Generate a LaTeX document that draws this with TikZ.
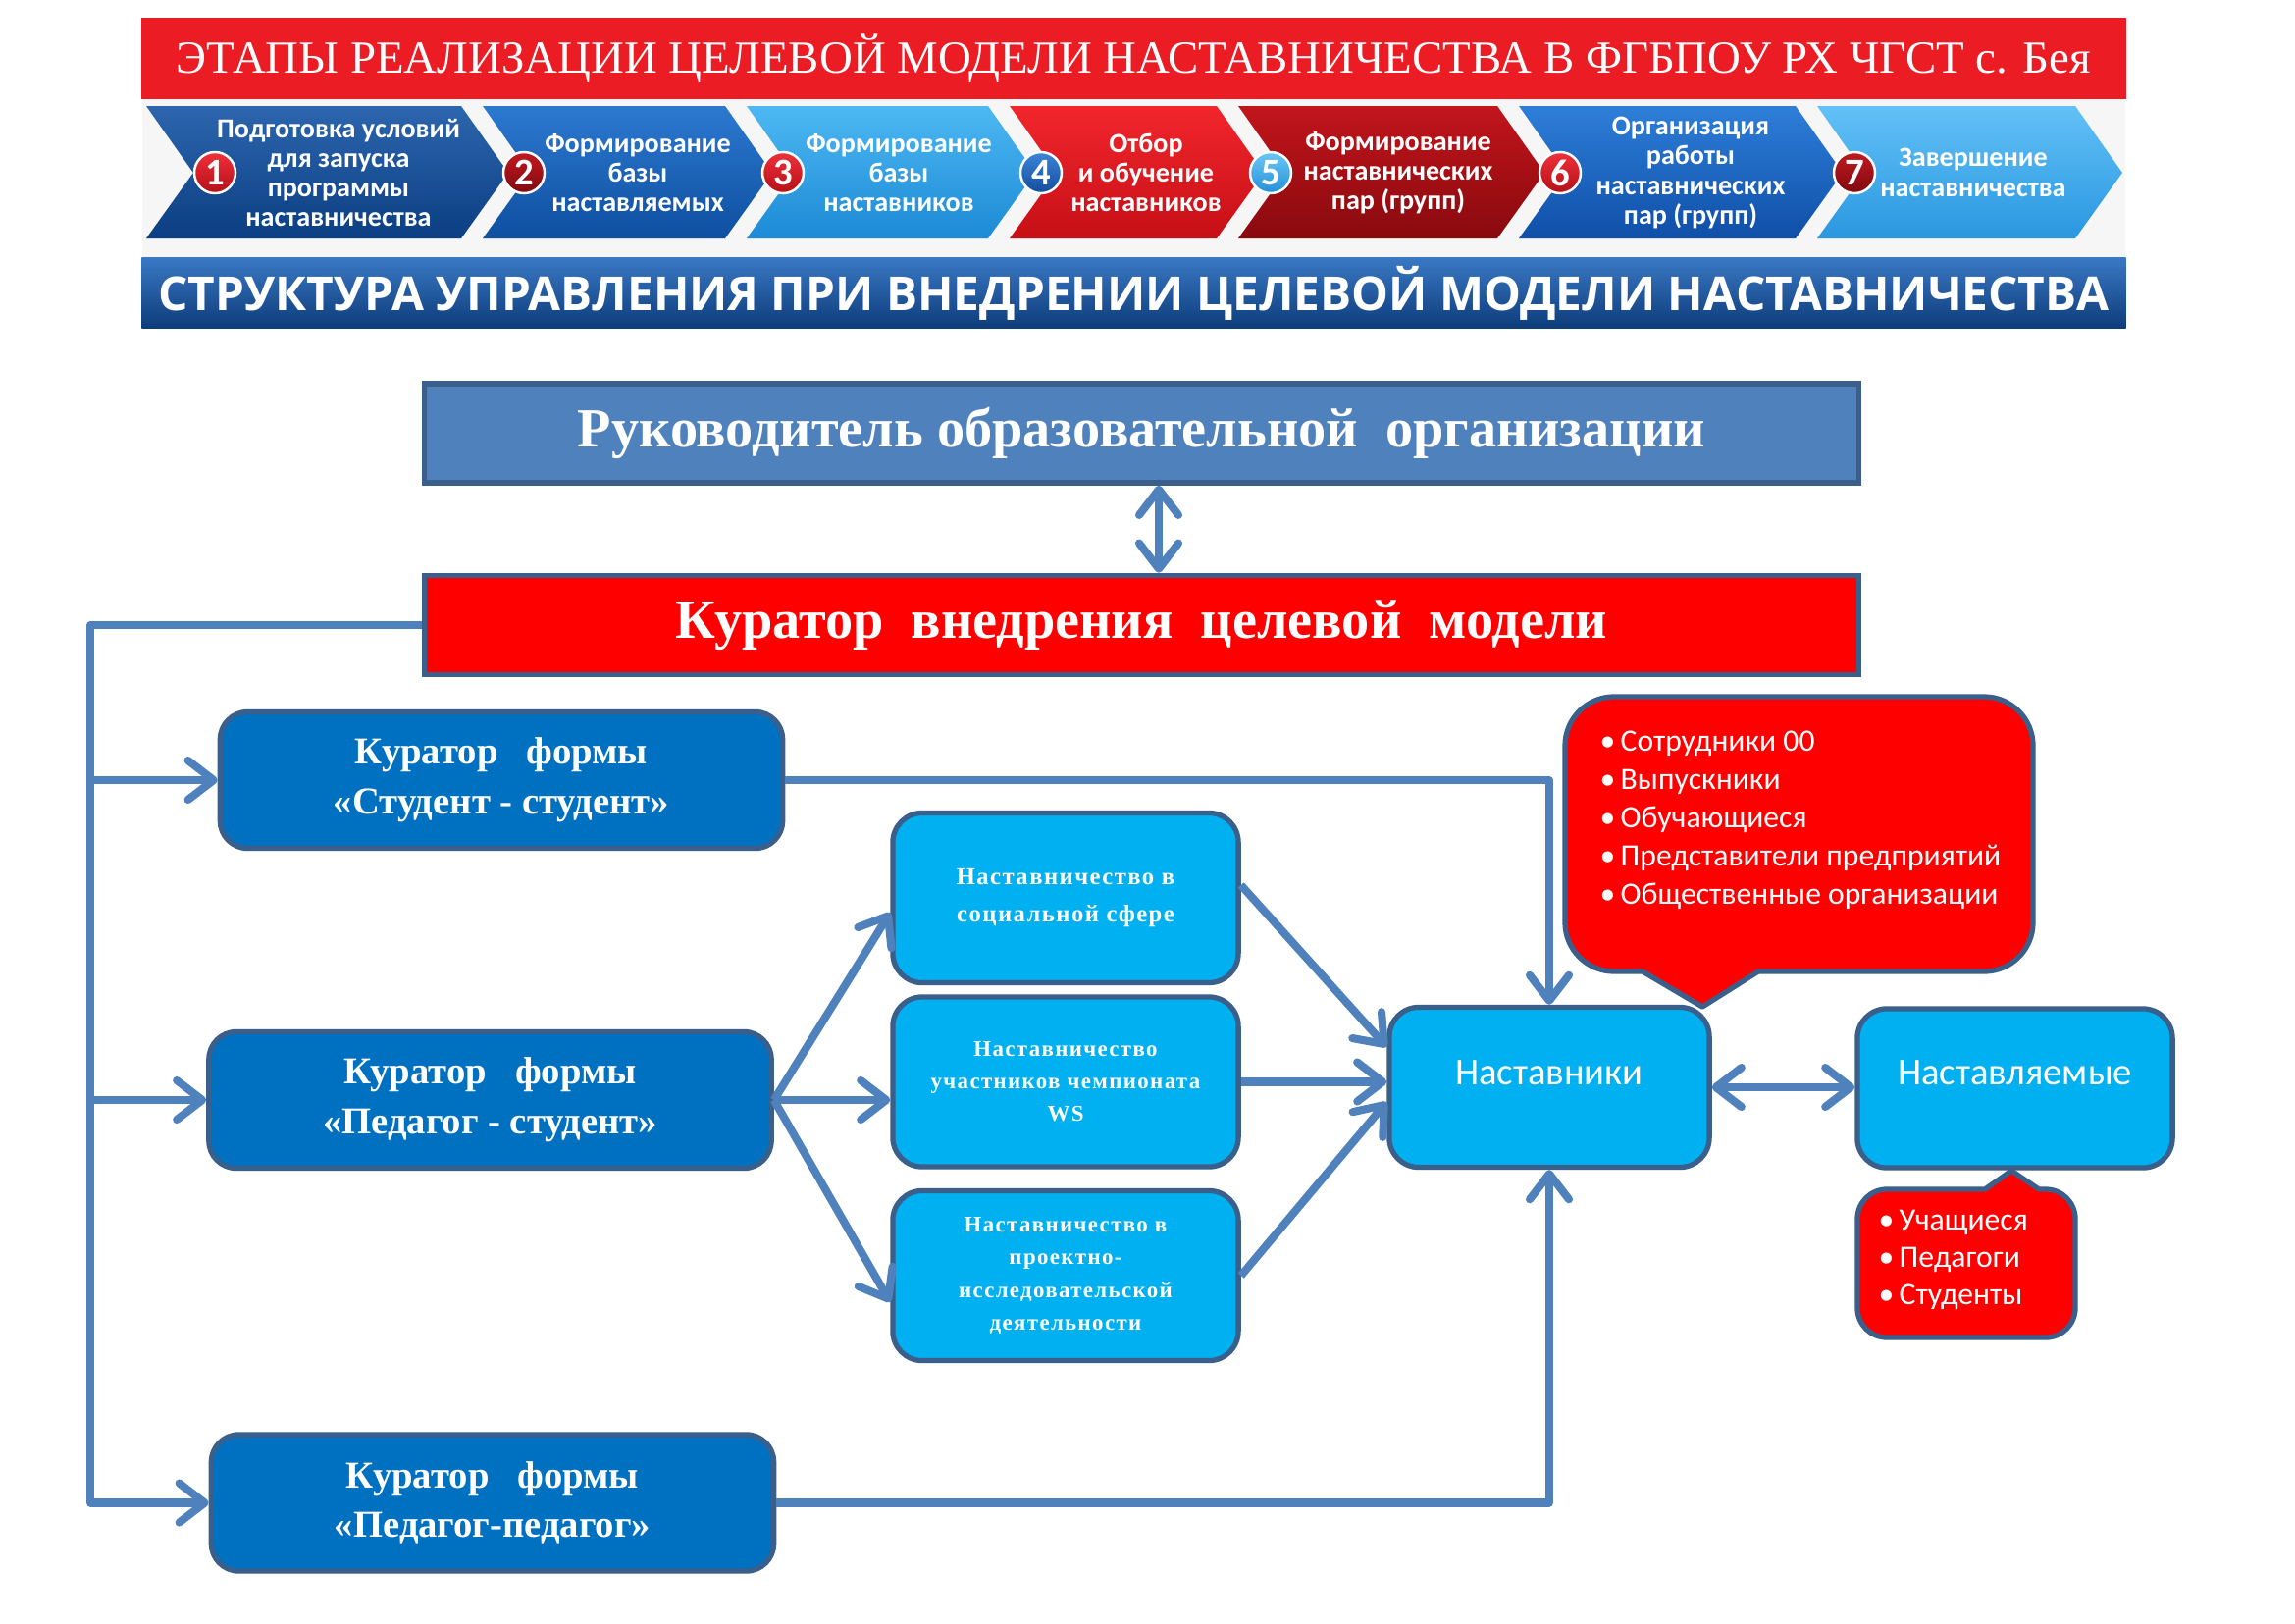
\documentclass[tikz,border=0pt]{standalone}
\usepackage{graphicx}
\usepackage{fontspec}
\setmainfont{Liberation Serif}
\newfontfamily\cfont{Carlito}
\newfontfamily\osfont{Open Sans}
\newfontfamily\mfont{Liberation Serif}[LetterSpace=6]
\usetikzlibrary{arrows.meta}
\definecolor{bannerred}{HTML}{EC1C24}
\definecolor{connc}{HTML}{4F81BD}
\definecolor{bord}{HTML}{3A5F8B}
\definecolor{rukc}{HTML}{4F81BD}
\definecolor{darkb}{HTML}{0070C0}
\definecolor{lightb}{HTML}{00B0F0}
\definecolor{purered}{HTML}{FF0000}
\definecolor{c1a}{HTML}{2D66AE}\definecolor{c1b}{HTML}{0B3E82}
\definecolor{c2a}{HTML}{2C79D0}\definecolor{c2b}{HTML}{0E4FA0}
\definecolor{c3a}{HTML}{4DB8F2}\definecolor{c3b}{HTML}{1C8AD6}
\definecolor{c4a}{HTML}{F2262D}\definecolor{c4b}{HTML}{C60F16}
\definecolor{c5a}{HTML}{C2151C}\definecolor{c5b}{HTML}{880A0E}
\definecolor{c6a}{HTML}{2E7ED8}\definecolor{c6b}{HTML}{0F4FA8}
\definecolor{c7a}{HTML}{62C1F6}\definecolor{c7b}{HTML}{2A97E0}
\definecolor{ra}{HTML}{F0303A}\definecolor{rb}{HTML}{B50F18}
\definecolor{da}{HTML}{C21820}\definecolor{db}{HTML}{7E0A10}
\definecolor{ba}{HTML}{3C85D8}\definecolor{bb}{HTML}{134C9C}
\definecolor{la}{HTML}{6CC6F5}\definecolor{lb}{HTML}{2590D8}
\definecolor{bb1}{HTML}{3A78C4}\definecolor{bb2}{HTML}{0D3C7A}
\tikzset{
  conn/.style={draw=connc, line width=2.3pt, line join=round},
  arr/.style={-{Straight Barb[length=0.26cm,width=0.4cm,round]}},
  darr/.style={{Straight Barb[length=0.26cm,width=0.4cm,round]}-{Straight Barb[length=0.26cm,width=0.4cm,round]}},
  chtext/.style={text=white, font=\cfont\bfseries\fontsize{8}{8.6}\selectfont, align=center, inner sep=0},
  numc/.style={circle, minimum size=0.42cm, inner sep=0, draw=white, line width=0.7pt, text=white, font=\cfont\bfseries\fontsize{11}{11}\selectfont},
  bigbox/.style={draw=bord, line width=1.6pt, minimum width=14.61cm, minimum height=1.01cm, inner sep=0, text=white, font=\bfseries\fontsize{16}{19}\selectfont},
  curbox/.style={draw=bord, fill=darkb, line width=1.5pt, rounded corners=0.28cm, minimum width=5.73cm, minimum height=1.39cm, inner sep=0, text=white, align=center, font=\bfseries\fontsize{11}{14.4}\selectfont},
  midbox/.style={draw=bord, fill=lightb, line width=1.5pt, rounded corners=0.3cm, minimum width=3.52cm, minimum height=1.73cm, inner sep=0, text=white, align=center, font=\mfont\bfseries\fontsize{6.5}{9.4}\selectfont},
  nbox/.style={draw=bord, fill=lightb, line width=1.5pt, rounded corners=0.3cm, minimum height=1.63cm, inner sep=0, text=white, font=\cfont\fontsize{11}{13}\selectfont},
  callout/.style={draw=bord, fill=purered, line width=1.5pt, line join=round},
  bul/.style={text=white, align=left, inner sep=0, font=\cfont\fontsize{9}{11.1}\selectfont}
}
\begin{document}
\begin{tikzpicture}[x=0.01cm,y=-0.01cm]
\useasboundingbox (0,0) rectangle (2339,1654);
\fill[white] (0,0) rectangle (2339,1654);

% ---------- header ----------
\fill[gray!7] (145,101) rectangle (2166,263);
\node[fill=bannerred, minimum width=20.21cm, minimum height=0.83cm, inner sep=0] (title) at (1155.5,59.5)
  {\resizebox{19.5cm}{!}{\color{white}\fontsize{13}{13}\selectfont ЭТАПЫ РЕАЛИЗАЦИИ ЦЕЛЕВОЙ МОДЕЛИ НАСТАВНИЧЕСТВА В ФГБПОУ РХ ЧГСТ с. Бея}};

\foreach \L/\W/\ca/\cb in {149/321/c1a/c1b, 492/247/c2a/c2b, 761/246/c3a/c3b, 1029/211/c4a/c4b, 1262/264/c5a/c5b, 1548/282/c6a/c6b, 1852/263/c7a/c7b}
  \shade[top color=\ca, bottom color=\cb] (\L,108) -- ({\L+\W},108) -- ({\L+\W+48},176) -- ({\L+\W},243) -- (\L,243) -- ({\L+48},176) -- cycle;

\node[chtext] (t1) at (345,176) {Подготовка условий\\для запуска\\программы\\наставничества};
\node[chtext] (t2) at (650,176) {Формирование\\базы\\наставляемых};
\node[chtext] (t3) at (916,176) {Формирование\\базы\\наставников};
\node[chtext] (t4) at (1168,176) {Отбор\\и обучение\\наставников};
\node[chtext] (t5) at (1425,176) {Формирование\\наставнических\\пар (групп)};
\node[chtext] (t6) at (1723,176) {Организация\\работы\\наставнических\\пар (групп)};
\node[chtext] (t7) at (2011,176) {Завершение\\наставничества};

\foreach \x/\n/\ca/\cb in {219/1/ra/rb, 534/2/da/db, 798/3/ra/rb, 1061/4/ba/bb, 1295/5/la/lb, 1590/6/ra/rb, 1890/7/da/db}
  \node[numc, top color=\ca, bottom color=\cb] (n\n) at (\x,176) {\n};

\node[top color=bb1, bottom color=bb2, minimum width=20.21cm, minimum height=0.71cm, inner sep=0] (sub) at (1155.5,298.5)
  {\resizebox{19.87cm}{!}{\color{white}\osfont\bfseries СТРУКТУРА УПРАВЛЕНИЯ ПРИ ВНЕДРЕНИИ ЦЕЛЕВОЙ МОДЕЛИ НАСТАВНИЧЕСТВА}};

% ---------- main boxes ----------
\node[bigbox, fill=rukc] (ruk) at (1163.5,441.5) {Руководитель образовательной\ \ организации};
\node[bigbox, fill=purered] (kur) at (1163.5,637) {Куратор\ \ внедрения\ \ целевой\ \ модели};

\node[curbox] (c1) at (511,795) {Куратор\ \ \ формы\\«Студент - студент»};
\node[curbox] (c2) at (499.5,1121) {Куратор\ \ \ формы\\«Педагог - студент»};
\node[curbox] (c3) at (502,1531.5) {Куратор\ \ \ формы\\«Педагог-педагог»};

\node[midbox, font=\mfont\bfseries\fontsize{7}{11}\selectfont] (m1) at (1086,915) {Наставничество в\\социальной сфере};
\node[midbox] (m2) at (1086,1102.5) {Наставничество\\участников чемпионата\\WS};
\node[midbox] (m3) at (1086,1300) {Наставничество в\\проектно-\\исследовательской\\деятельности};

% callouts
\draw[callout] (1645,710) -- (2022,710) arc[start angle=90,end angle=0,radius=0.5cm]
  -- (2072,940) arc[start angle=0,end angle=-90,radius=0.5cm]
  -- (1792,990) -- (1735,1026) -- (1674,990)
  -- (1645,990) arc[start angle=-90,end angle=-180,radius=0.5cm]
  -- (1595,760) arc[start angle=180,end angle=90,radius=0.5cm] -- cycle;
\node[bul, anchor=west] (list1) at (1630,836) {•\,Сотрудники 00\\•\,Выпускники\\•\,Обучающиеся\\•\,Представители предприятий\\•\,Общественные организации};

\draw[callout] (1923,1212) -- (2023,1212) -- (2050,1193) -- (2078,1212)
  -- (2085,1212) arc[start angle=90,end angle=0,radius=0.3cm]
  -- (2115,1333) arc[start angle=0,end angle=-90,radius=0.3cm]
  -- (1923,1363) arc[start angle=-90,end angle=-180,radius=0.3cm]
  -- (1893,1242) arc[start angle=180,end angle=90,radius=0.3cm] -- cycle;
\node[bul, anchor=west, font=\cfont\fontsize{9}{10.7}\selectfont] (list2) at (1914,1284) {•\,Учащиеся\\•\,Педагоги\\•\,Студенты};

\node[nbox, minimum width=3.26cm] (nast) at (1579,1108) {\raisebox{0.15cm}[\height][\depth]{Наставники}};
\node[nbox, minimum width=3.21cm, minimum height=1.62cm] (nastl) at (2053.5,1109) {\raisebox{0.16cm}[\height][\depth]{Наставляемые}};

% ---------- connectors ----------
\coordinate (bus) at (92,0);
\draw[conn, darr] ([xshift=0.175cm]ruk.south) -- ([xshift=0.175cm]kur.north);
\draw[conn, arr] (kur.west) -| (bus |- c3.west) -- (c3.west);
\draw[conn, arr] (bus |- c1.west) -- (c1.west);
\draw[conn, arr] (bus |- c2.west) -- (c2.west);

\draw[conn, arr] (c1.east) -| (nast.north);
\draw[conn, arr] (c3.east) -| (nast.south);

\draw[conn, arr] (c2.east) -- ([yshift=-0.15cm]m1.west);
\draw[conn, arr] (c2.east) -- (c2.east -| m2.west);
\draw[conn, arr] (c2.east) -- ([yshift=-0.27cm]m3.west);

\draw[conn, arr] ([yshift=0.13cm]m1.east) -- ([yshift=0.41cm]nast.west);
\draw[conn, arr] (m2.east) -- (m2.east -| nast.west);
\draw[conn, arr] (m3.east) -- ([yshift=-0.15cm]nast.west);

\draw[conn, darr] (nast.east) -- (nast.east -| nastl.west);
\end{tikzpicture}
\end{document}
